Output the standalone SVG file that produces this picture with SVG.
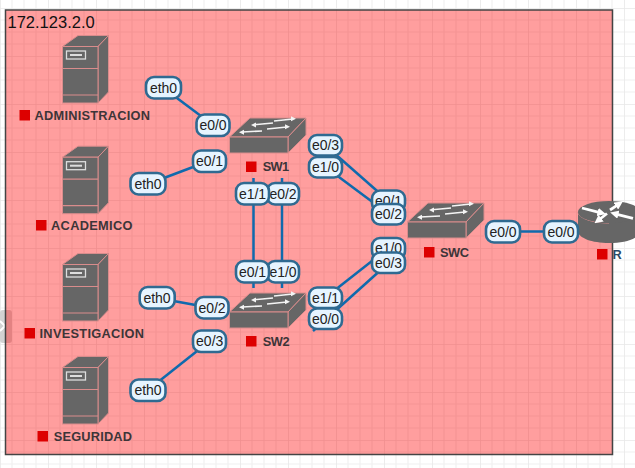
<svg xmlns="http://www.w3.org/2000/svg" width="635" height="468" viewBox="0 0 635 468">
<style>
.t{font-family:"Liberation Sans",Arial,sans-serif}
.n{font-size:12.800px;font-weight:bold;fill:#3d3538}
.p{font-size:14px;fill:#222;text-anchor:middle}
.b{fill:#e6f4ff;stroke:#2f6a91;stroke-width:2.600}
.l{stroke:#0f6aad;stroke-width:2.500;fill:none}
.r{fill:#dd0000}
.d{fill:#666;stroke:#d98c8c;stroke-width:1}
.a{fill:none;stroke:#f4f4f4;stroke-width:1.600}
</style>
<defs>
<pattern id="grid" width="48" height="48" patternUnits="userSpaceOnUse" y="8">
<path d="M12 0V48M24 0V48M36 0V48M0 12H48M0 24H48M0 36H48" fill="none" stroke="#f0f0f0" stroke-width="1.200"/>
<path d="M0 0V48M0 0H48" fill="none" stroke="#e8e8e8" stroke-width="1.600"/>
</pattern>
<marker id="ah" viewBox="0 0 6 6" refX="1" refY="3" markerWidth="3" markerHeight="3" orient="auto"><path d="M0 0L6 3L0 6Z" fill="#fff"/></marker>
<g id="srv">
<path class="d" d="M62.500 46.500L78 35.500H108.500L98 46.500Z"/>
<path class="d" d="M98 46.500L108.500 35.500V92L98 103Z"/>
<rect class="d" x="62.500" y="46.500" width="35.500" height="56.500"/>
<path d="M62.500 68.500H98M62.500 95H98" stroke="#d98c8c" stroke-width="1.200"/>
<rect x="66.500" y="51" width="19" height="8" fill="none" stroke="#ddd" stroke-width="1.300"/>
<rect x="70" y="54" width="12" height="2" fill="#ddd"/>
</g>
<g id="sw">
<path class="d" d="M229.500 137L250 118H306L288 137Z"/>
<path class="d" d="M288 137L306 118V135L288 153Z"/>
<rect class="d" x="229.500" y="137" width="58.500" height="16"/>
<path class="a" d="M274 121L293 119M254 124.700L273 123M267 129L287 127M242 132L262 131"/>
<path d="M296 118.700l-5-2.500 0 5zM251 125l5-2.500 0 5zM290 126.700l-5-2.500 0 5zM239 132.300l5-2.500 0 5z" fill="#f4f4f4"/>
</g>
</defs>
<rect width="635" height="468" fill="#fff"/>
<rect width="635" height="468" fill="url(#grid)"/>
<rect x="0" y="310" width="12" height="33" rx="3" fill="#d2d2d2"/>
<path d="M0 321L5 326L0 331" fill="none" stroke="#fff" stroke-width="2"/>
<rect x="5.500" y="10" width="607" height="444.500" fill="#ff0000" fill-opacity="0.38" stroke="#444" stroke-width="1.500"/>
<text class="t" x="7.500" y="28" font-size="16.500" fill="#111">172.123.2.0</text>
<g id="connectors">
<path class="l" d="M163.500 88L213 125"/>
<path class="l" d="M209 161L148 184"/>
<path class="l" d="M157 298L212 308"/>
<path class="l" d="M209.700 341L148 390"/>
<path class="l" d="M253.500 178V288"/>
<path class="l" d="M282 178V288"/>
<path class="l" d="M325.500 145.500L388.500 201"/>
<path class="l" d="M325.500 167L402 224"/>
<path class="l" d="M325.500 297.500L388.500 248"/>
<path class="l" d="M313 331L388.500 263"/>
<path class="l" d="M503 231.500H561"/>
</g>
<g id="ADMINISTRACION"><use href="#srv"/><rect class="r" x="19.500" y="110" width="10.500" height="10.500"/><text class="t n" x="34.500" y="120" textLength="115.500">ADMINISTRACION</text></g>
<g id="ACADEMICO"><use href="#srv" y="110.700"/><rect class="r" x="36" y="220" width="10.500" height="10.500"/><text class="t n" x="51" y="229.700" textLength="81.500">ACADEMICO</text></g>
<g id="INVESTIGACION"><use href="#srv" y="218"/><rect class="r" x="24.500" y="328" width="10.500" height="10.500"/><text class="t n" x="39.500" y="337.700" textLength="104.500">INVESTIGACION</text></g>
<g id="SEGURIDAD"><use href="#srv" y="321"/><rect class="r" x="37.500" y="431" width="10.500" height="10.500"/><text class="t n" x="53.700" y="441" textLength="78.300">SEGURIDAD</text></g>
<g id="SW1"><use href="#sw"/><rect class="r" x="246" y="161.500" width="10.500" height="10.500"/><text class="t n" x="262.700" y="171" textLength="26.500">SW1</text></g>
<g id="SW2"><use href="#sw" y="175"/><rect class="r" x="246" y="336" width="10.500" height="10.500"/><text class="t n" x="262.700" y="345.700" textLength="27">SW2</text></g>
<g id="SWC"><use href="#sw" x="178" y="85"/><rect class="r" x="424" y="247" width="10.500" height="10.500"/><text class="t n" x="440" y="257" textLength="29">SWC</text></g>
<g id="R">
<path d="M578 212V231C578 238 592 243 609 243S640 238 640 231V212Z" fill="#666"/>
<path d="M578 212C578 218 592 223 609 223" fill="none" stroke="#d98c8c" stroke-width="1"/>
<ellipse cx="609" cy="212" rx="31" ry="11" fill="#666"/>
<g fill="none" stroke="#fff" stroke-width="2.800" marker-end="url(#ah)">
<path d="M582 208L599 212.300" marker-end="url(#ah)"/>
<path d="M607 213.500L600 219" marker-end="url(#ah)"/>
<path d="M610 210L617 205.300" marker-end="url(#ah)"/>
<path d="M633 218.300L617 214.300" marker-end="url(#ah)"/>
</g>
<rect class="r" x="597" y="249" width="10.500" height="10.500"/><text class="t n" x="612.500" y="259" style="fill:#2b4a66">R</text></g>
<g id="labels">
<rect class="b" x="146" y="77" width="35" height="21.500" rx="8"/><text class="t p" x="163.500" y="92.500">eth0</text>
<rect class="b" x="196.500" y="114.500" width="33" height="21.500" rx="8"/><text class="t p" x="213" y="130">e0/0</text>
<rect class="b" x="193" y="150.500" width="33" height="21.500" rx="8"/><text class="t p" x="209.500" y="166">e0/1</text>
<rect class="b" x="130.500" y="173" width="35" height="21.500" rx="8"/><text class="t p" x="148" y="188.500">eth0</text>
<rect class="b" x="139.700" y="287" width="35" height="21.500" rx="8"/><text class="t p" x="157" y="303">eth0</text>
<rect class="b" x="195.500" y="297" width="33" height="21.500" rx="8"/><text class="t p" x="212" y="313">e0/2</text>
<rect class="b" x="193" y="330.500" width="33" height="21.500" rx="8"/><text class="t p" x="209.700" y="346">e0/3</text>
<rect class="b" x="130.500" y="379.500" width="35" height="21.500" rx="8"/><text class="t p" x="148" y="395">eth0</text>
<rect class="b" x="309" y="135" width="33" height="20.500" rx="8"/><text class="t p" x="325.500" y="150">e0/3</text>
<rect class="b" x="309" y="157" width="33" height="20.500" rx="8"/><text class="t p" x="325.500" y="172">e1/0</text>
<rect class="b" x="267" y="183" width="32" height="21.500" rx="8"/><text class="t p" x="283" y="198.500">e0/2</text>
<rect class="b" x="236" y="183" width="33" height="21.500" rx="8"/><text class="t p" x="252.500" y="198.500">e1/1</text>
<rect class="b" x="267" y="261" width="32" height="21.500" rx="8"/><text class="t p" x="283" y="277">e1/0</text>
<rect class="b" x="236" y="261" width="33" height="21.500" rx="8"/><text class="t p" x="252.500" y="277">e0/1</text>
<rect class="b" x="372" y="190.500" width="33" height="21" rx="8"/><text class="t p" x="388.500" y="206">e0/1</text>
<rect class="b" x="372" y="204" width="33" height="20.500" rx="8"/><text class="t p" x="388.500" y="219">e0/2</text>
<rect class="b" x="372" y="238" width="33" height="21" rx="8"/><text class="t p" x="388.500" y="253">e1/0</text>
<rect class="b" x="372" y="252.500" width="33" height="20.500" rx="8"/><text class="t p" x="388.500" y="268">e0/3</text>
<rect class="b" x="309" y="287.500" width="33" height="20.500" rx="8"/><text class="t p" x="325.500" y="302.500">e1/1</text>
<rect class="b" x="309" y="308.500" width="33" height="20.500" rx="8"/><text class="t p" x="325.500" y="323.500">e0/0</text>
<rect class="b" x="486" y="221" width="34" height="21.500" rx="8"/><text class="t p" x="503" y="236.500">e0/0</text>
<rect class="b" x="544" y="221" width="34" height="21.500" rx="8"/><text class="t p" x="561" y="236.500">e0/0</text>
</g>
</svg>
